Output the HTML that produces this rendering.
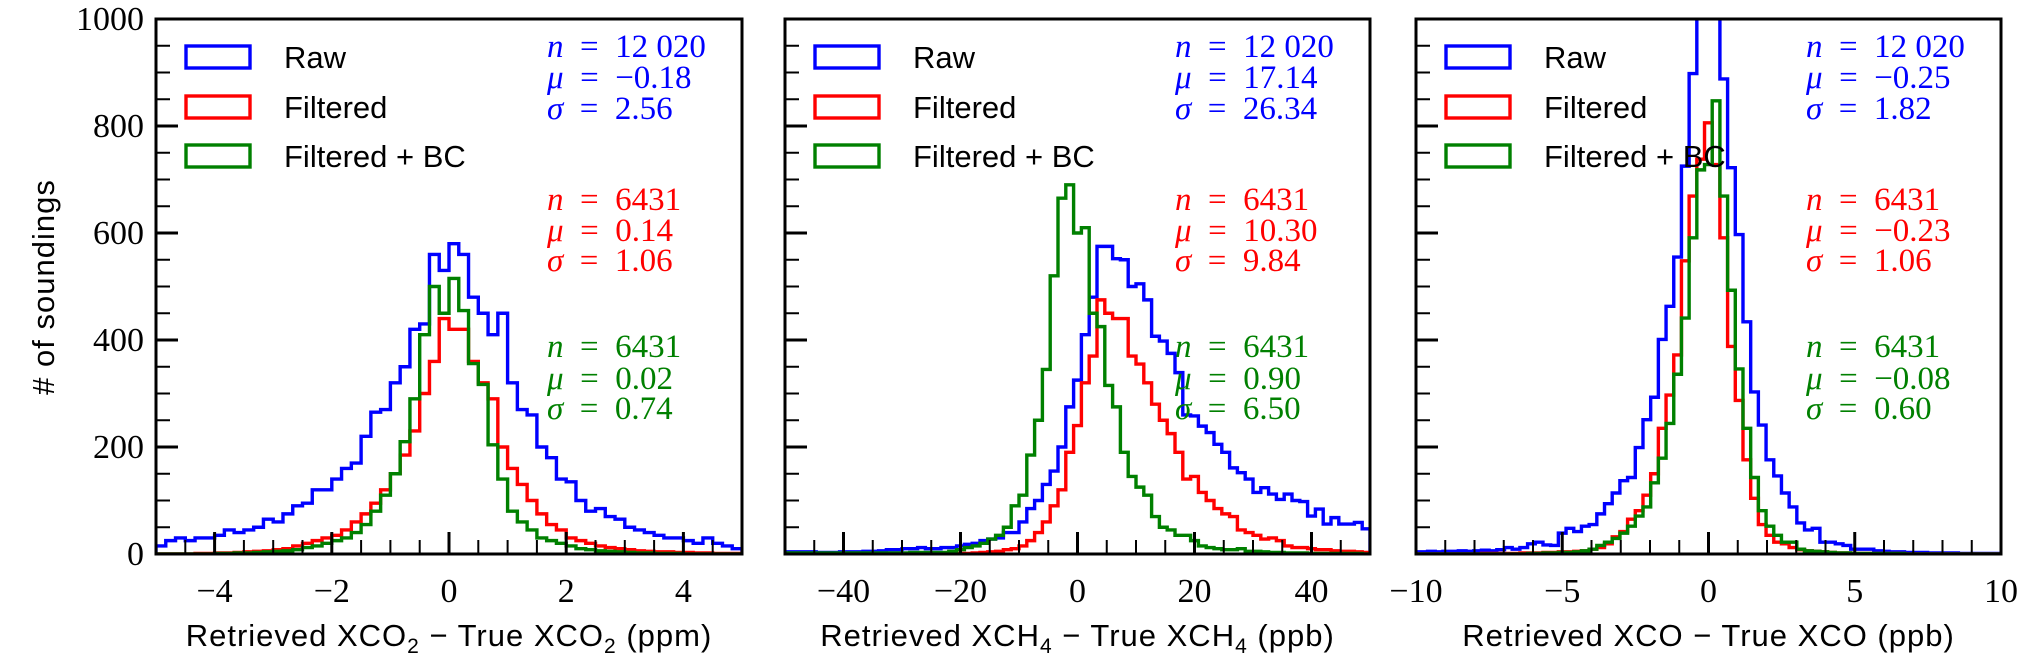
<!DOCTYPE html>
<html><head><meta charset="utf-8">
<style>
html,body{margin:0;padding:0;background:#fff;}
svg{display:block;}
.tick{font-family:"Liberation Serif",serif;font-size:34px;fill:#000;}
.leg{font-family:"Liberation Sans",sans-serif;font-size:31px;fill:#000;}
.stat{font-family:"Liberation Serif",serif;font-size:33px;}
.title{font-family:"Liberation Sans",sans-serif;font-size:31px;fill:#000;letter-spacing:1px;}
</style></head>
<body>
<svg id="chart" width="2042" height="657" viewBox="0 0 2042 657" xmlns="http://www.w3.org/2000/svg">
<text class="title" transform="translate(54,287) rotate(-90)" text-anchor="middle"># of soundings</text>
</svg>
<script>
// ---- Panel 1: XCO2 (ppm), bins from -5 width 1/6
const co2Raw=[15,25,30,25,30,30,35,45,40,45,50,65,60,75,90,95,120,120,140,160,170,220,265,270,320,350,420,430,560,530,580,560,480,450,410,450,320,270,260,200,180,140,135,100,80,85,70,65,50,45,40,35,30,30,25,20,30,20,15,10];
const co2Filt=[0,0,0,0,1,1,2,2,3,4,5,6,8,10,15,20,25,30,35,45,60,75,95,120,150,185,230,300,360,440,420,420,360,320,290,200,160,130,100,75,55,45,30,25,20,15,12,10,8,6,5,4,4,3,3,2,2,1,1,1];
const co2BC=[0,0,0,0,0,0,1,1,2,2,3,4,5,6,8,12,15,20,25,30,40,55,80,110,150,210,290,410,500,450,515,455,356,317,204,140,80,60,45,30,25,20,15,10,8,6,5,4,3,2,2,1,1,1,0,0,0,0,0,0];
// ---- Panel 2: XCH4 (ppb), bins from -50 width 4/3
const ch4Raw=[4,4,4,4,3,3,3,4,4,4,5,5,6,8,8,10,10,12,10,10,12,12,15,18,20,25,28,30,40,40,60,85,100,130,155,200,275,325,410,480,575,575,552,550,500,505,475,407,398,375,339,260,258,239,227,205,190,161,152,140,115,124,112,102,112,100,98,71,84,56,68,56,56,59,47];
const ch4Filt=[1,1,1,1,1,1,1,1,1,1,1,1,1,1,1,1,1,1,1,1,1,1,1,1,2,3,4,5,8,10,15,25,40,60,90,120,190,240,320,370,475,450,440,440,370,355,320,280,250,225,190,140,145,115,100,85,75,70,45,40,35,28,30,25,15,12,12,10,8,8,6,5,5,4,3];
const ch4BC=[2,2,2,2,2,2,2,2,2,2,2,2,2,2,2,2,3,3,3,3,3,5,8,12,15,20,28,35,50,90,110,185,250,345,520,665,690,600,610,450,425,315,275,190,145,125,110,70,50,45,35,35,25,15,12,10,8,8,10,5,5,4,3,3,2,2,2,1,1,1,1,1,1,1,0];
// ---- Panel 3: XCO (ppb), bins from -10.13 width 0.263
const coRaw=[4,4,5,4,5,5,6,5,6,7,6,8,12,9,12,19,22,17,16,39,48,42,52,55,75,94,114,137,143,199,251,293,401,463,555,725,898,1150,1300,1150,888,722,597,434,303,241,176,146,114,88,58,45,48,22,22,19,16,9,9,9,6,5,4,4,3,3,3,2,2,2,2,1,1,1,1,1,1];
const coFilt=[0,0,0,0,0,0,0,0,0,1,1,1,1,1,2,2,2,3,3,4,4,5,6,9,12,19,32,42,65,81,110,150,235,297,372,548,669,738,806,728,591,388,287,176,104,55,35,22,19,12,8,6,5,4,3,2,2,1,1,1,1,1,1,1,0,0,0,0,0,0,0,0,0,0,0,0,0];
const coBC=[0,0,0,0,0,0,0,0,0,0,0,0,0,0,0,1,1,2,2,3,3,4,6,9,16,22,29,39,52,71,88,133,179,244,336,441,591,718,728,847,669,493,346,235,143,81,52,35,22,22,9,6,5,4,3,2,2,1,1,1,1,1,1,1,0,0,0,0,0,0,0,0,0,0,0,0,0];

const yTicks=[0,200,400,600,800,1000];
const p1Ticks=[-4,-2,0,2,4];
const p2Ticks=[-40,-20,0,20,40];
const p3Ticks=[-10,-5,0,5,10];

const NS="http://www.w3.org/2000/svg";
const svg=document.getElementById('chart');
const Y0=554, Y1=19, YMAX=1000;
function yS(v){return Y0-(Math.min(v,1060)/YMAX)*(Y0-Y1);}
function mk(tag,attrs,parent){const e=document.createElementNS(NS,tag);for(const k in attrs)e.setAttribute(k,attrs[k]);(parent||svg).appendChild(e);return e;}

const panels=[
 {name:'xco2',x0:156,x1:742,xmin:-5,xmax:5,binStart:-5,binW:1/6,ticks:p1Ticks,minor:0.5,series:[co2Raw,co2Filt,co2BC],
  title:['Retrieved XCO','2',' − True XCO','2',' (ppm)'],stats:[['12 020','−0.18','2.56'],['6431','0.14','1.06'],['6431','0.02','0.74']],ylabels:true},
 {name:'xch4',x0:785,x1:1370,xmin:-50,xmax:50,binStart:-50,binW:4/3,ticks:p2Ticks,minor:5,series:[ch4Raw,ch4Filt,ch4BC],
  title:['Retrieved XCH','4',' − True XCH','4',' (ppb)'],stats:[['12 020','17.14','26.34'],['6431','10.30','9.84'],['6431','0.90','6.50']],ylabels:false},
 {name:'xco',x0:1416,x1:2001,xmin:-10,xmax:10,binStart:-10.13,binW:0.263,ticks:p3Ticks,minor:1,series:[coRaw,coFilt,coBC],
  title:['Retrieved XCO − True XCO (ppb)'],stats:[['12 020','−0.25','1.82'],['6431','−0.23','1.06'],['6431','−0.08','0.60']],ylabels:false}
];
const colors=['#0000ff','#ff0000','#008000'];
const legNames=['Raw','Filtered','Filtered + BC'];

panels.forEach((p,pi)=>{
  const g=mk('g',{});
  
  
  const xS=v=>p.x0+(v-p.xmin)/(p.xmax-p.xmin)*(p.x1-p.x0);
  const cid='clip'+pi;
  const cp=mk('clipPath',{id:cid},g);
  mk('rect',{x:p.x0,y:Y1,width:p.x1-p.x0,height:Y0-Y1},cp);
  p.series.forEach((arr,si)=>{
    let d='';
    arr.forEach((v,i)=>{
      const xa=xS(p.binStart+i*p.binW), xb=xS(p.binStart+(i+1)*p.binW), y=yS(v);
      d+=(i===0?'M'+xa+','+Y0+' L'+xa+','+y:' L'+xa+','+y)+' L'+xb+','+y;
      if(i===arr.length-1) d+=' L'+xb+','+Y0;
    });
    const path=mk('path',{d:d,fill:'none',stroke:colors[si],'stroke-width':3.4,'stroke-linejoin':'miter','clip-path':'url(#'+cid+')'},g);
    
    
  });
  for(let v=0;v<=1000;v+=50){
    const major=v%200===0, y=yS(v);
    mk('line',{x1:p.x0,x2:p.x0+(major?22:14),y1:y,y2:y,stroke:'#000','stroke-width':major?3:2},g);
  }
  if(p.ylabels){
    yTicks.forEach(v=>{
      const t=mk('text',{x:p.x0-12,y:yS(v)+11,'text-anchor':'end',class:'tick'},g);
      
      
      t.textContent=String(v);
    });
  }
  for(let v=p.xmin;v<=p.xmax+1e-9;v+=p.minor){
    const major=p.ticks.some(t=>Math.abs(t-v)<1e-9), x=xS(v);
    mk('line',{x1:x,x2:x,y1:Y0,y2:Y0-(major?22:14),stroke:'#000','stroke-width':major?3:2},g);
  }
  p.ticks.forEach(v=>{
    const t=mk('text',{x:xS(v),y:602,'text-anchor':'middle',class:'tick'},g);
    
    
    t.textContent=(v<0?'−':'')+Math.abs(v);
  });
  mk('rect',{x:p.x0,y:Y1,width:p.x1-p.x0,height:Y0-Y1,fill:'none',stroke:'#000','stroke-width':3},g);
  const tt=mk('text',{x:(p.x0+p.x1)/2,y:646,'text-anchor':'middle',class:'title'},g);
  
  
  p.title.forEach((s,i)=>{
    const ts=mk('tspan',{},tt);
    if(p.title.length>1 && (i===1||i===3)){ts.setAttribute('font-size','21');ts.setAttribute('dy','7');}
    else if(p.title.length>1 && (i===2||i===4)){ts.setAttribute('dy','-7');}
    ts.textContent=s;
  });
  legNames.forEach((n,li)=>{
    const cy=[57,107,156][li], lx=p.x0+30;
    const r=mk('rect',{x:lx,y:cy-11,width:64,height:22,fill:'none',stroke:colors[li],'stroke-width':3.4},g);
    
    
    const t=mk('text',{x:lx+98,y:cy+11,class:'leg'},g);
    
    
    t.textContent=n;
  });
  const sx=p.x1-195;
  const rows=[[46,77,108],[199,230,260],[346,378,408]];
  p.stats.forEach((st,si)=>{
    ['n','μ','σ'].forEach((sym,k)=>{
      const t=mk('text',{x:sx,y:rows[si][k]+11,class:'stat',fill:colors[si]},g);
      
      
      const a=mk('tspan',{'font-style':'italic'},t); a.textContent=sym;
      const b=mk('tspan',{},t); b.textContent='\u2002=\u2002'+st[k];
    });
  });
});
</script>
</body></html>
